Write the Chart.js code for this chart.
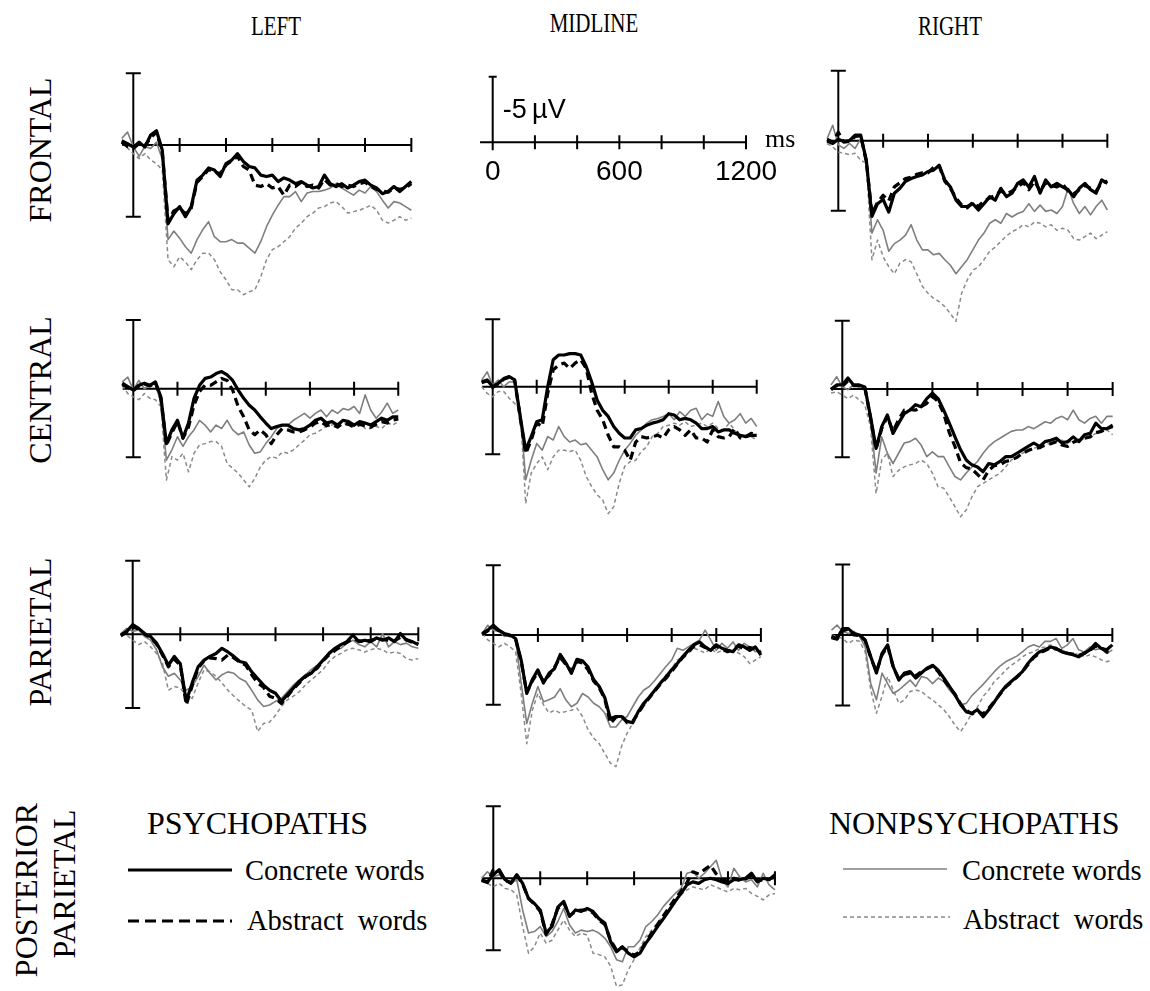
<!DOCTYPE html>
<html>
<head>
<meta charset="utf-8">
<title>ERP waveforms - concrete vs abstract words</title>
<script src="https://cdn.jsdelivr.net/npm/chart.js@4.4.1/dist/chart.umd.min.js"></script>
<style>
  body { margin: 0; background: #fff; }
  #page { position: relative; width: 1150px; height: 991px; overflow: hidden;
          font-family: "Liberation Serif", "Times New Roman", serif; color: #000; }
  #page canvas { position: absolute; }
  .txt { position: absolute; white-space: pre; line-height: 1; }
  .col { font-size: 21px; transform: translate(-50%, -50%) scaleY(1.35); }
  .row { font-size: 32px; transform: translate(-50%, -50%) rotate(-90deg); }
  .grp { font-size: 32px; transform: translateY(-50%); }
  .item { font-size: 28.5px; transform: translateY(-50%); }
  #legendLines { position: absolute; left: 0; top: 0; }
</style>
</head>
<body>
<div id="page">
  <div class="txt col" style="left:276px;top:26px">LEFT</div>
  <div class="txt col" style="left:594px;top:23px">MIDLINE</div>
  <div class="txt col" style="left:950px;top:26px">RIGHT</div>

  <div class="txt row" style="left:40px;top:150px">FRONTAL</div>
  <div class="txt row" style="left:40px;top:390px">CENTRAL</div>
  <div class="txt row" style="left:40px;top:632px">PARIETAL</div>
  <div class="txt row" style="left:26px;top:890px">POSTERIOR</div>
  <div class="txt row" style="left:64px;top:884px">PARIETAL</div>

  <div class="txt grp" style="left:147px;top:823px">PSYCHOPATHS</div>
  <div class="txt item" style="left:245px;top:871px">Concrete words</div>
  <div class="txt item" style="left:247px;top:921px">Abstract  words</div>
  <div class="txt grp" style="left:829px;top:823px">NONPSYCHOPATHS</div>
  <div class="txt item" style="left:962px;top:871px">Concrete words</div>
  <div class="txt item" style="left:963px;top:920px">Abstract  words</div>

  <svg id="legendLines" width="1150" height="991">
    <line x1="128" y1="870" x2="232" y2="870" stroke="#000" stroke-width="3"/>
    <line x1="128" y1="921" x2="232" y2="921" stroke="#000" stroke-width="3" stroke-dasharray="11 6"/>
    <line x1="843" y1="869" x2="947" y2="869" stroke="#7f7f7f" stroke-width="1.6"/>
    <line x1="843" y1="917" x2="950" y2="917" stroke="#8a8a8a" stroke-width="1.3" stroke-dasharray="4 3"/>
  </svg>
</div>

<script>
// time points (ms) shared by every waveform
const times = [-50,-25,0,25,50,75,100,125,150,175,200,225,250,275,300,325,350,375,400,425,450,475,500,525,550,575,600,625,650,675,700,725,750,775,800,825,850,875,900,925,950,975,1000,1025,1050,1075,1100,1125,1150,1175,1200];
const tickTimes = [200, 400, 600, 800, 1000, 1200];
const scaleTickLabels = [0, 600, 1200];
const calibration = 5; // µV, negative plotted up

// amplitudes in µV (positive = down)
// FRONTAL LEFT
const leftFrontalPsyConcrete = [-0.3,-0.1,0.15,-0.2,0.15,-0.7,-1.0,0.35,5.5,4.8,4.3,5.0,4.3,2.45,2.1,1.6,1.75,2.2,1.3,1.05,0.6,1.15,1.5,1.6,2.1,2.2,2.1,2.55,2.3,2.45,2.7,2.55,2.8,3.0,2.9,2.1,2.7,2.9,2.7,3.0,2.8,2.55,2.45,2.8,3.0,3.4,3.25,2.9,3.25,2.9,2.55];
const leftFrontalPsyAbstract = [-0.2,0.1,0.25,-0.1,0.05,-0.5,-0.9,0.5,5.3,4.6,4.4,4.8,4.4,2.6,2.2,1.7,1.9,2.0,1.4,1.1,0.8,1.5,1.75,2.8,2.9,2.7,3.0,2.9,3.5,2.8,2.9,2.6,2.9,2.8,3.0,2.4,2.8,2.7,2.9,2.8,2.9,2.7,2.6,2.9,3.1,3.2,3.3,3.0,3.1,3.0,2.7];
const leftFrontalNonConcrete = [-0.45,-0.9,0.1,0.8,0.1,0.25,-0.2,1.0,6.6,6.0,6.5,7.1,7.55,6.6,5.9,5.35,6.4,6.75,6.75,6.6,6.85,6.85,7.2,7.55,6.75,5.7,4.9,4.2,3.6,3.6,3.25,3.95,3.35,3.25,3.25,3.15,3.0,2.7,3.0,3.25,3.5,3.15,3.35,2.9,3.25,3.85,4.4,3.95,4.05,4.3,4.55];
const leftFrontalNonAbstract = [-0.2,0.2,0.6,0.95,0.6,1.05,1.3,1.75,8.0,8.5,7.8,8.15,8.7,8.0,7.55,7.55,8.0,8.85,9.4,10.1,10.1,10.45,10.25,10.1,9.2,8.0,7.3,7.1,6.75,6.4,5.8,5.45,5.0,4.75,4.4,4.3,4.05,3.95,4.3,4.75,4.65,4.55,4.4,4.2,4.55,5.25,5.45,5.25,5.0,5.25,5.1];
// FRONTAL RIGHT
const rightFrontalPsyConcrete = [0,0.2,-0.1,0.05,0,-0.4,-0.4,1.4,5.4,4.5,4.2,5.1,3.75,3.4,2.9,2.7,2.55,2.45,2.2,2.1,1.75,2.8,3.3,4.25,4.7,4.7,4.5,4.95,4.5,4.0,4.25,3.4,4.0,3.75,3.05,2.8,3.3,2.55,3.75,2.8,3.3,3.05,3.3,3.5,4.0,3.4,3.05,3.5,3.75,2.8,3.05];
const rightFrontalPsyAbstract = [-0.1,0.1,-0.6,0.1,0.05,-0.3,-0.35,1.5,5.2,4.4,3.9,4.3,3.3,3.0,2.7,2.6,2.4,2.3,2.3,1.9,1.8,2.9,3.4,4.1,4.6,4.8,4.4,4.7,4.3,4.1,3.9,3.6,3.8,3.6,3.3,3.0,3.5,2.9,3.6,3.0,3.2,3.3,3.1,3.6,3.8,3.5,3.2,3.4,3.6,3.0,2.9];
const rightFrontalNonConcrete = [-0.15,-1.1,0.3,0.55,0.2,0.55,-0.15,1.15,6.6,5.65,6.4,7.9,7.35,7.1,6.75,6.0,7.1,7.8,7.8,8.15,8.05,8.5,8.9,9.5,9.0,8.5,7.8,7.1,6.6,5.9,5.65,5.9,5.2,5.45,5.2,5.05,4.5,5.05,4.6,5.05,4.95,5.2,4.7,3.4,4.5,5.2,4.7,5.3,4.7,4.25,4.95];
const rightFrontalNonAbstract = [0.2,0.45,0.8,0.9,1.0,0.9,1.4,1.6,8.5,7.1,8.3,9.0,9.5,8.75,8.5,8.65,9.5,10.4,10.9,11.25,11.5,11.85,12.35,12.9,10.9,9.95,9.25,9.0,8.5,7.9,7.6,7.2,6.8,6.5,6.3,6.0,6.15,5.8,5.9,6.15,6.0,6.4,6.25,6.4,7.0,7.1,6.85,6.6,7.0,6.75,6.5];
// CENTRAL
const leftCentralPsyConcrete = [-0.4,-0.15,0.1,-0.25,-0.4,-0.25,-0.5,0.6,4.0,3.0,2.3,3.6,2.5,0.7,-0.25,-0.75,-0.85,-1.1,-1.25,-1.0,-0.6,0.1,0.7,1.2,1.55,2.05,2.5,2.9,2.75,2.65,2.65,2.9,3.0,2.9,2.65,2.3,2.15,2.5,2.4,2.65,2.3,2.4,2.65,2.4,2.5,2.65,2.4,2.15,2.3,2.05,2.05];
const leftCentralPsyAbstract = [-0.3,-0.1,0.15,-0.2,-0.35,-0.2,-0.45,0.7,4.1,3.2,2.4,3.6,2.8,1.2,0.2,-0.25,-0.25,-0.5,-0.75,-0.6,0.1,1.3,2.05,3.0,3.35,3.0,3.35,4.0,3.35,2.9,3.0,3.15,3.15,3.0,2.8,2.5,2.4,2.7,2.6,2.8,2.5,2.6,2.8,2.6,2.7,2.8,2.6,2.4,2.5,2.3,2.2];
const leftCentralNonConcrete = [-0.5,-0.85,0.1,-0.6,0,-0.25,-0.4,1.05,5.2,4.45,3.5,4.2,3.5,3.0,2.3,2.65,3.15,2.65,2.9,2.3,3.0,3.35,3.15,4.1,4.7,4.6,4.0,3.5,2.9,2.65,2.65,2.3,2.05,1.8,2.15,1.8,1.55,2.05,1.55,1.8,1.45,1.55,1.3,1.8,0.45,1.55,2.15,1.7,1.05,1.8,1.55];
const leftCentralNonAbstract = [-0.25,0.35,0.6,0.8,0.35,0.7,0.8,1.3,6.65,4.95,5.2,4.7,6.05,4.7,4.1,4.0,3.85,3.85,4.2,5.45,5.8,6.15,6.65,7.15,6.55,5.7,5.2,4.95,5.05,4.6,4.7,4.45,4.1,3.75,3.35,3.25,3.0,2.75,2.65,2.5,2.5,2.65,2.75,2.5,2.9,2.9,2.75,2.9,2.5,2.65,2.4];
const midCentralPsyConcrete = [-0.35,-0.5,0,-0.25,-0.6,-0.75,-0.5,2.2,4.7,3.7,2.6,2.45,0,-2.0,-2.35,-2.35,-2.45,-2.45,-2.35,-1.5,-0.35,1.0,1.75,2.2,2.95,3.45,3.8,3.8,3.2,3.1,2.85,2.7,2.6,2.45,2.0,2.1,2.45,2.35,2.45,2.7,3.1,3.1,2.95,3.35,3.2,3.2,3.45,3.6,3.7,3.6,3.6];
const midCentralPsyAbstract = [-0.3,-0.45,0.05,-0.2,-0.55,-0.7,-0.45,2.3,4.95,3.95,2.7,2.95,0.5,-1.25,-1.6,-1.75,-1.35,-1.75,-2.0,-1.35,0.5,1.75,2.45,3.6,4.45,4.45,4.7,5.45,4.1,3.7,3.8,3.7,3.6,3.8,3.2,2.95,3.2,3.6,3.2,3.8,3.8,4.1,3.2,3.7,3.8,3.7,3.1,3.8,3.7,3.45,3.6];
const midCentralNonConcrete = [-0.5,-1.1,-0.1,-0.5,0,-0.35,-0.35,1.75,6.9,5.45,4.2,4.7,3.7,3.95,2.95,3.7,4.1,3.95,4.3,4.2,4.7,5.2,6.15,6.9,6.4,5.45,4.7,4.2,3.6,3.2,2.7,2.45,2.35,2.2,2.0,2.45,1.85,2.2,1.75,1.6,2.45,2.0,2.2,1.1,2.2,2.7,2.45,2.0,2.7,2.35,2.95];
const midCentralNonAbstract = [0,0.5,0.75,0.35,0.35,0.85,1.25,1.75,8.65,6.4,5.7,5.2,6.15,5.2,4.7,4.7,4.8,4.7,5.45,6.65,7.4,8.0,8.4,9.4,8.9,7.15,5.9,5.55,5.45,4.8,4.45,3.7,3.45,2.95,2.85,2.7,2.85,2.6,2.95,2.85,2.7,2.95,2.7,3.1,3.2,2.7,3.2,3.8,3.6,3.7,3.95];
const rightCentralPsyConcrete = [0.05,-0.3,-0.3,-0.8,-0.3,-0.3,-0.15,2.0,4.35,2.75,1.9,3.25,2.5,1.8,1.55,1.15,1.3,0.7,0.3,0.7,1.55,2.5,3.5,4.45,5.2,5.55,5.7,6.05,5.45,5.55,5.3,4.95,4.95,4.7,4.45,4.2,3.95,4.2,3.85,3.75,3.6,3.95,3.85,3.5,3.85,3.35,3.25,2.5,2.9,2.9,2.65];
const rightCentralPsyAbstract = [0,-0.25,-0.2,-0.6,-0.25,-0.25,-0.1,2.1,4.4,2.9,2.0,3.1,2.25,1.55,1.5,1.55,1.3,1.05,0.55,0.9,1.8,3.2,4.2,5.4,5.75,5.85,6.25,6.65,5.95,5.6,5.55,5.3,5.2,5.0,4.7,4.5,4.35,4.3,4.1,4.0,3.85,4.1,4.2,3.9,3.75,3.6,3.5,3.2,3.1,2.9,2.75];
const rightCentralNonConcrete = [-0.3,-0.9,-0.15,0.05,-0.3,-0.15,-0.15,2.25,6.15,3.5,4.7,5.45,4.7,3.95,3.85,3.6,4.1,4.95,4.6,4.95,4.95,5.7,6.4,6.65,6.15,5.7,5.3,4.7,4.2,3.85,3.6,3.35,3.1,3.0,3.0,2.75,2.9,2.65,2.4,2.5,2.15,2.0,2.25,1.55,2.25,2.5,2.15,2.0,2.5,2.0,2.0];
const rightCentralNonAbstract = [0.3,0.2,0.45,0.7,0.45,0.8,1.15,2.75,7.65,5.2,4.7,6.4,5.95,5.7,5.55,5.45,5.2,5.45,6.15,7.15,7.25,7.9,8.6,9.35,8.85,7.9,7.15,6.9,6.65,6.4,6.15,5.7,5.2,4.95,4.7,4.45,4.35,4.2,4.1,3.95,3.85,3.75,3.95,3.75,3.85,3.6,3.5,3.25,3.1,3.0,3.35];
// PARIETAL
const leftParietalPsyConcrete = [0.05,-0.2,-0.65,-0.4,-0.05,0.15,0.6,1.3,2.1,1.5,2.0,4.55,3.3,2.2,1.75,1.5,1.3,0.95,1.2,1.5,1.85,1.95,2.55,3.0,3.45,3.8,4.0,4.55,4.1,3.65,3.2,2.85,2.65,2.2,1.75,1.3,0.95,0.7,0.5,0.05,0.5,0.4,0.5,0.25,0.4,0.25,0.5,-0.05,0.4,0.5,0.7];
const leftParietalPsyAbstract = [0.1,-0.15,-0.5,-0.35,0,0.2,0.65,1.4,2.2,1.7,2.1,4.8,3.5,2.3,1.8,1.6,1.65,1.75,1.4,1.6,1.9,2.1,2.75,3.3,3.6,4.2,4.35,4.7,4.2,3.7,3.3,2.9,2.6,2.3,1.8,1.4,1.1,0.8,0.55,0.3,0.45,0.5,0.4,0.3,0.35,0.4,0.45,0.2,0.35,0.55,0.65];
const leftParietalNonConcrete = [-0.05,-0.4,-0.2,-0.3,0.15,0.4,1.05,2.2,2.85,2.65,3.1,3.8,3.55,2.85,2.1,2.65,3.1,2.75,2.55,2.65,3.0,3.2,3.8,4.45,4.9,4.8,4.55,4.35,3.9,3.45,3.1,2.75,2.4,2.1,1.75,1.2,1.05,0.95,0.6,0.4,0.7,0.85,0.5,0.85,-0.05,0.85,0.5,0.7,0.6,0.85,0.95];
const leftParietalNonAbstract = [-0.05,0.05,0.4,0.7,0.5,0.85,1.3,1.95,3.8,3.55,3.65,4.2,4.35,3.3,2.4,2.55,2.85,3.3,3.8,4.2,4.55,4.9,5.15,6.6,6.05,5.95,5.5,4.9,4.45,4.2,3.9,3.45,3.1,2.75,2.4,1.85,1.5,1.3,1.05,0.95,1.05,1.2,1.05,0.95,1.05,1.3,1.2,1.3,1.65,1.75,1.65];
const midParietalPsyConcrete = [-0.1,-0.35,-0.7,-0.35,-0.1,0,0.25,1.8,4.2,3.2,2.5,3.45,2.75,2.4,1.4,2.0,2.75,1.75,1.85,2.3,3.2,3.7,4.5,6.0,5.85,5.85,6.2,6.3,5.5,4.9,4.45,3.95,3.45,3.0,2.5,2.05,1.55,1.1,0.7,0.5,0.85,1.1,0.7,0.95,1.1,1.2,0.7,0.85,1.1,0.85,1.45];
const midParietalPsyAbstract = [-0.05,-0.3,-0.6,-0.3,-0.05,0.05,0.3,1.9,4.1,3.3,2.7,3.3,2.9,2.3,1.6,2.1,2.6,1.9,2.0,2.5,3.3,3.8,4.6,6.35,5.9,5.8,6.3,6.2,5.6,5.0,4.5,4.0,3.5,3.1,2.6,2.1,1.6,1.2,0.8,0.7,0.9,1.0,0.8,1.0,1.2,1.0,0.8,1.0,0.9,1.0,1.3];
const midParietalNonConcrete = [-0.1,-0.7,-0.35,-0.25,0.1,0,0.35,3.45,6.35,4.9,3.7,4.8,4.65,4.45,3.85,4.65,5.15,4.9,4.2,4.45,4.9,5.15,5.6,6.6,6.6,6.1,5.85,5.15,4.45,3.95,3.7,3.25,2.75,2.25,1.8,0.95,1.1,0.85,0.6,0.35,-0.35,0.35,1.1,0.6,0.95,0.5,1.1,0.6,0.85,1.2,1.1];
const midParietalNonAbstract = [-0.1,0.35,0.6,0.85,0.6,0.85,1.2,4.2,7.8,5.4,4.2,5.0,5.6,5.4,5.6,5.5,5.4,5.25,5.85,6.8,7.4,7.8,8.5,9.2,9.45,8.0,7.05,6.35,5.6,5.15,4.45,3.95,3.35,2.85,2.4,1.8,1.55,1.3,0.95,1.1,1.3,0.95,1.3,1.1,1.2,1.1,1.3,1.55,2.05,1.8,1.55];
const rightParietalPsyConcrete = [0.1,0.25,-0.45,-0.45,-0.1,0,0.35,1.55,2.7,1.3,0.7,2.25,3.2,2.7,2.6,3.05,2.7,2.35,2.15,2.5,3.05,3.65,4.25,4.95,5.45,5.55,5.3,5.8,5.3,4.75,4.15,3.65,3.3,2.95,2.6,2.0,1.55,1.2,1.05,0.85,0.95,1.2,1.3,1.4,1.55,1.3,1.05,0.6,0.95,1.05,0.7];
const rightParietalPsyAbstract = [0.2,0.3,-0.3,-0.4,0,0.05,0.4,1.6,2.6,1.4,0.8,2.3,3.1,2.8,2.7,2.9,2.6,2.4,2.2,2.6,3.2,3.7,4.2,4.9,5.35,5.6,5.4,5.6,5.2,4.7,4.2,3.7,3.35,3.0,2.6,2.1,1.6,1.3,1.1,0.9,1.0,1.15,1.3,1.35,1.45,1.3,1.1,0.8,0.9,1.2,1.3];
const rightParietalNonConcrete = [-0.35,-0.7,-0.25,-0.1,-0.25,0.1,0.85,3.45,4.6,2.7,3.45,4.15,3.9,3.55,3.2,3.65,2.95,3.05,3.45,3.05,3.3,3.9,4.35,4.95,4.85,4.3,3.9,3.5,3.05,2.6,2.2,1.9,1.7,1.5,1.2,0.85,0.7,0.85,0.45,0.45,0.25,0.95,0.7,0.25,1.05,1.2,0.85,1.05,0.95,1.3,1.05];
const rightParietalNonAbstract = [0,0.1,0.25,0.6,0.35,0.45,1.2,3.9,5.55,4.35,2.95,3.9,4.85,4.6,4.0,3.9,4.0,4.35,4.6,4.95,5.3,5.8,6.4,6.85,6.25,5.55,5.1,4.35,3.9,3.3,2.95,2.5,2.15,1.9,1.55,1.3,1.2,0.95,0.85,0.7,0.95,1.05,1.3,1.4,1.3,1.55,1.4,1.55,1.75,1.9,1.75];
// POSTERIOR PARIETAL (midline)
const postParPsyConcrete = [0.1,0.25,-0.25,-0.6,0.1,0.35,-0.25,0.35,1.4,1.75,2.2,3.8,3.35,2.0,1.6,2.65,2.2,2.3,2.1,2.3,2.8,3.1,4.4,5.1,4.75,5.2,5.45,5.2,4.5,3.95,3.35,2.8,2.2,1.6,1.05,0.45,0.25,0.35,0.1,0,0.1,0.25,0.35,0.1,0.1,0,-0.35,0.25,0,0.1,-0.25];
const postParPsyAbstract = [0.15,0.3,-0.6,-0.5,0.15,0.3,-0.2,0.4,1.4,1.8,2.3,3.9,3.2,2.1,1.7,2.6,2.3,2.2,2.2,2.4,2.9,3.2,4.3,5.0,4.8,5.1,5.35,5.1,4.4,3.8,3.2,2.6,2.0,1.4,0.9,0.3,-0.45,-0.3,-0.6,-0.9,-0.3,0.1,0.2,0.0,0.15,0.05,-0.2,0.2,0.1,0.05,-0.1];
const postParNonConcrete = [0,-0.45,-0.1,-0.25,0.1,0.35,0.1,2.2,3.8,3.7,3.35,4.05,3.7,3.0,2.1,3.25,3.8,3.6,3.7,3.6,3.8,4.15,4.75,5.65,5.8,4.75,4.75,4.3,3.35,3.0,2.55,1.95,1.5,1.05,0.7,-0.35,-0.45,0,-0.35,-0.8,-1.25,0.1,0.6,-0.7,-0.1,0.25,0.1,0.6,-0.35,0.45,0.8];
const postParNonAbstract = [0.1,0.35,0.6,0.35,0.7,0.8,1.15,3.35,5.2,4.75,3.8,4.5,4.3,3.6,2.9,3.6,4.05,3.8,3.95,5.2,5.3,5.45,6.1,7.5,7.4,6.35,5.65,4.85,4.05,3.6,3.1,2.55,2.2,1.5,1.15,0.8,0.6,0.7,0.8,0.45,0.6,0.8,0.95,0.7,0.8,0.7,1.05,1.25,1.5,1.15,1.05];

// line look: psychopaths black/thick, nonpsychopaths gray/thin
const seriesStyles = [
  { color: "#000000", width: 3.2, dash: [] },
  { color: "#000000", width: 3.2, dash: [8, 5] },
  { color: "#7f7f7f", width: 1.6, dash: [] },
  { color: "#8a8a8a", width: 1.5, dash: [4, 3] },
];

// where each panel sits on the page: origin (0 ms, 0 µV), px per ms, px per µV
const panels = [
  { x0: 133.3, y0: 145.0, msPx: 0.2317, uvPx: 14.33, series: [leftFrontalPsyConcrete, leftFrontalPsyAbstract, leftFrontalNonConcrete, leftFrontalNonAbstract] },
  { x0: 838.3, y0: 140.7, msPx: 0.2242, uvPx: 14.00, series: [rightFrontalPsyConcrete, rightFrontalPsyAbstract, rightFrontalNonConcrete, rightFrontalNonAbstract] },
  { x0: 133.3, y0: 388.7, msPx: 0.2208, uvPx: 13.73, series: [leftCentralPsyConcrete, leftCentralPsyAbstract, leftCentralNonConcrete, leftCentralNonAbstract] },
  { x0: 492.7, y0: 386.7, msPx: 0.2200, uvPx: 13.50, series: [midCentralPsyConcrete, midCentralPsyAbstract, midCentralNonConcrete, midCentralNonAbstract] },
  { x0: 842.3, y0: 389.0, msPx: 0.2253, uvPx: 13.67, series: [rightCentralPsyConcrete, rightCentralPsyAbstract, rightCentralNonConcrete, rightCentralNonAbstract] },
  { x0: 132.7, y0: 634.3, msPx: 0.2380, uvPx: 14.73, series: [leftParietalPsyConcrete, leftParietalPsyAbstract, leftParietalNonConcrete, leftParietalNonAbstract] },
  { x0: 493.3, y0: 635.0, msPx: 0.2230, uvPx: 13.93, series: [midParietalPsyConcrete, midParietalPsyAbstract, midParietalNonConcrete, midParietalNonAbstract] },
  { x0: 842.7, y0: 635.0, msPx: 0.2247, uvPx: 14.10, series: [rightParietalPsyConcrete, rightParietalPsyAbstract, rightParietalNonConcrete, rightParietalNonAbstract] },
  { x0: 493.3, y0: 878.3, msPx: 0.2347, uvPx: 14.40, series: [postParPsyConcrete, postParPsyAbstract, postParNonConcrete, postParNonAbstract] },
];
const scalePanel = { x0: 492.7, y0: 142.3, msPx: 0.2111, uvPx: 13.13, series: [], scale: true };

// axes: baseline with 200 ms ticks, calibration bar at 0 ms
const erpAxes = {
  id: "erpAxes",
  beforeDatasetsDraw(chart, args, opts) {
    const { ctx } = chart;
    const x = chart.scales.x, y = chart.scales.y;
    const bx = x.getPixelForValue(0), by = y.getPixelForValue(0);
    ctx.save();
    ctx.strokeStyle = "#000";
    ctx.lineWidth = 2;
    ctx.beginPath();
    ctx.moveTo(x.getPixelForValue(opts.scale ? -60 : -48), by);
    ctx.lineTo(x.getPixelForValue(1200), by);
    tickTimes.forEach(t => {
      const px = x.getPixelForValue(t);
      ctx.moveTo(px, by - 7);
      ctx.lineTo(px, by + 7);
    });
    const top = y.getPixelForValue(-calibration);
    const bottom = opts.scale ? by + 8 : y.getPixelForValue(calibration);
    const cap = opts.scale ? 4 : 7.5;
    ctx.moveTo(bx, top); ctx.lineTo(bx, bottom);
    ctx.moveTo(bx - cap, top); ctx.lineTo(bx + cap, top);
    if (!opts.scale) { ctx.moveTo(bx - 7.5, bottom); ctx.lineTo(bx + 7.5, bottom); }
    ctx.stroke();

    if (opts.scale) {
      ctx.fillStyle = "#000";
      ctx.font = '28px "Liberation Sans", Arial, sans-serif';
      ctx.textAlign = "center";
      ctx.textBaseline = "middle";
      scaleTickLabels.forEach(t => ctx.fillText(String(t), x.getPixelForValue(t), by + 30));
      ctx.textAlign = "left";
      ctx.font = '27px "Liberation Sans", Arial, sans-serif';
      ctx.fillText("-5\u2009\u00b5V", bx + 10, y.getPixelForValue(-calibration / 2) + 1);
      ctx.font = '26px "Liberation Serif", "Times New Roman", serif';
      ctx.fillText("ms", x.getPixelForValue(1200) + 19, by - 2);
    }
    ctx.restore();
  }
};

const page = document.getElementById("page");

function makePanel(p) {
  const tMin = -70, tMax = p.scale ? 1460 : 1230;
  const vTop = -7, vBottom = 14;
  const left = Math.round(p.x0 + tMin * p.msPx);
  const width = Math.round((tMax - tMin) * p.msPx);
  const top = Math.round(p.y0 + vTop * p.uvPx);
  const height = Math.round((vBottom - vTop) * p.uvPx);

  const canvas = document.createElement("canvas");
  canvas.width = width;
  canvas.height = height;
  canvas.style.left = left + "px";
  canvas.style.top = top + "px";
  canvas.style.width = width + "px";
  canvas.style.height = height + "px";
  page.appendChild(canvas);

  const datasets = p.series.map((vals, i) => ({
    data: times.map((t, j) => ({ x: t, y: vals[j] })),
    borderColor: seriesStyles[i].color,
    borderWidth: seriesStyles[i].width,
    borderDash: seriesStyles[i].dash,
    borderJoinStyle: "round",
    pointRadius: 0,
    tension: 0,
    fill: false,
  }));

  new Chart(canvas, {
    type: "line",
    data: { datasets },
    options: {
      responsive: false,
      animation: false,
      devicePixelRatio: 1,
      events: [],
      layout: { padding: 0 },
      plugins: { legend: { display: false }, tooltip: { enabled: false }, erpAxes: { scale: !!p.scale } },
      scales: {
        x: { type: "linear", display: false, min: (left - p.x0) / p.msPx, max: (left + width - p.x0) / p.msPx },
        y: { type: "linear", display: false, reverse: true, min: (top - p.y0) / p.uvPx, max: (top + height - p.y0) / p.uvPx },
      },
    },
    plugins: [erpAxes],
  });
}

makePanel(scalePanel);
panels.forEach(makePanel);
</script>
</body>
</html>
